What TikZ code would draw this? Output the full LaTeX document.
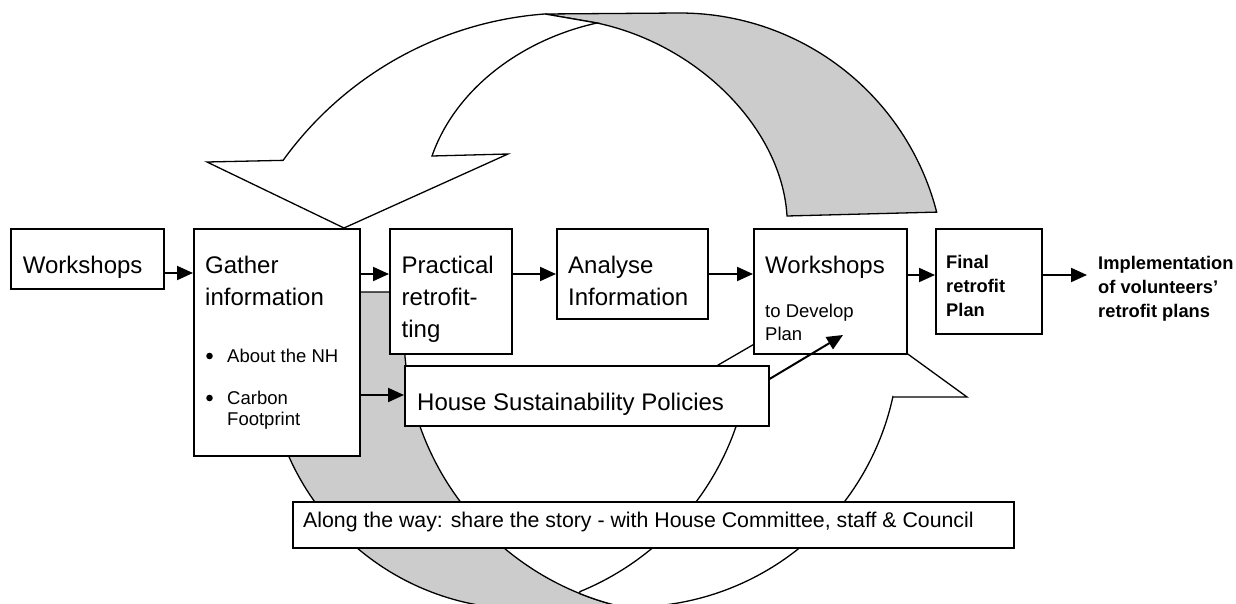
\documentclass[tikz,border=0pt]{standalone}
\usepackage{fontspec}
\setmainfont{Liberation Sans}
\usetikzlibrary{arrows.meta}
\definecolor{ribbonback}{RGB}{204,204,204}

\begin{document}
\begin{tikzpicture}[x=1pt,y=-1pt,
  box/.style={draw, line width=1.5pt, fill=white, inner sep=0pt, anchor=north west},
  flow/.style={line width=2pt, -{Triangle[length=16pt,width=14pt]}},
  ribbon/.style={draw, line width=1.3pt, line join=miter},
  big/.style={font=\fontsize{24}{32}\selectfont, anchor=base west, inner sep=0pt},
  mid/.style={font=\fontsize{21.3}{26}\selectfont, anchor=base west, inner sep=0pt},
  small/.style={font=\fontsize{18.5}{23}\selectfont, anchor=base west, inner sep=0pt},
  heavy/.style={font=\fontsize{18.3}{24}\selectfont\bfseries, anchor=base west, inner sep=0pt},
]
\useasboundingbox (0,0) rectangle (1236,604);

% lower circular arrow: shaded back part (runs past the lower edge)
\filldraw[ribbon, fill=ribbonback] (274,292) -- (407,292)
  -- plot[domain=188.4:100, samples=80] ({685+281*cos(\x)},{333+281*sin(\x)})
  -- (636,625) -- (523,625)
  -- plot[domain=90:193.8, samples=80] ({523+256*cos(\x)},{353+256*sin(\x)})
  -- cycle;
% lower circular arrow: front part with head
\filldraw[ribbon, fill=white] (663,397) -- (832,299) -- (967,397) -- (893,397)
  -- plot[domain=12.3:90, samples=70] ({632+267*cos(\x)},{340+267*sin(\x)})
  -- plot[domain=100:112, samples=20] ({685+281*cos(\x)},{333+281*sin(\x)})
  -- plot[domain=67.8:12.4, samples=70] ({476+275*cos(\x)},{337+275*sin(\x)})
  -- cycle;

% upper circular arrow: shaded back part
\filldraw[ribbon, fill=ribbonback] (545,14) -- (680,13)
  -- plot[domain=-90:-14.4, samples=60] ({680+265*cos(\x)},{278+265*sin(\x)})
  -- (787,216) .. controls (782,130) and (700,45) .. (597,23)
  -- cycle;
% upper circular arrow: front part with head
\filldraw[ribbon, fill=white] (207,162) -- (344,228) -- (508,154) -- (432,156)
  .. controls (455,90) and (520,40) .. (597,23)
  -- (545,14)
  -- plot[domain=-94.2:-144.2, samples=70] ({571+355*cos(\x)},{368+355*sin(\x)})
  -- cycle;

% process boxes
\node[box, minimum width=153pt, minimum height=60pt]  (ws1)       at (10,228)  {};
\node[box, minimum width=166pt, minimum height=227pt] (gather)    at (193,228) {};
\node[box, minimum width=122pt, minimum height=125pt] (practical) at (389,228) {};
\node[box, minimum width=151pt, minimum height=90pt]  (analyse)   at (556,228) {};
\node[box, minimum width=153pt, minimum height=125pt] (ws2)       at (753,228) {};
\node[box, minimum width=106pt, minimum height=105pt] (final)     at (935,228) {};
\node[box, minimum width=364pt, minimum height=60pt]  (house)     at (404,365) {};
\node[box, minimum width=721pt, minimum height=46pt]  (along)     at (292,501) {};

% box texts
\node[big] (ws1a) at (22.7,273) {Workshops};
\node[big] (ga) at (205,273) {Gather};
\node[big] (gb) at (205,305) {information};
\fill (209.5,356) circle (3.3pt);
\fill (209.5,398) circle (3.3pt);
\node[small] (gc) at (227,362) {About the NH};
\node[small] (gd) at (227,404) {Carbon};
\node[small] (ge) at (227,425) {Footprint};
\node[big] (pa) at (401.5,273) {Practical};
\node[big] (pb) at (401.5,305) {retrofit-};
\node[big] (pc) at (401.5,337) {ting};
\node[big] (aa) at (568,273) {Analyse};
\node[big] (ab) at (568,305) {Information};
\node[big] (wa) at (765,273) {Workshops};
\node[small] (wb) at (765,317) {to Develop};
\node[small] (wc) at (765,340) {Plan};
\node[heavy] (fa) at (946,268) {Final};
\node[heavy] (fb) at (946,292) {retrofit};
\node[heavy] (fc) at (946,316) {Plan};
\node[heavy] (imp1) at (1098,269) {Implementation};
\node[heavy] (imp2) at (1098,293) {of volunteers’};
\node[heavy] (imp3) at (1098,317) {retrofit plans};
\node[big] (ha) at (417,410) {House Sustainability Policies};
\node[mid] (la) at (303,527) {Along the way: share the story - with House Committee, staff \& Council};

% connectors
\coordinate (plantip) at (843,335);
\draw[flow] (ws1.east |- 0,273) -- (gather.west |- 0,273);
\draw[flow] (gather.east |- 0,274) -- (practical.west |- 0,274);
\draw[flow] (practical.east |- 0,274) -- (analyse.west |- 0,274);
\draw[flow] (analyse.east |- 0,274) -- (ws2.west |- 0,274);
\draw[flow] (ws2.east |- 0,275) -- (final.west |- 0,275);
\draw[flow] (final.east |- 0,275) -- ([xshift=-11pt]imp1.west |- 0,275);
\draw[flow] (gather.east |- 0,395) -- (house.west |- 0,395);
\draw[flow] (house.east |- 0,379) -- (plantip);
\end{tikzpicture}
\end{document}
